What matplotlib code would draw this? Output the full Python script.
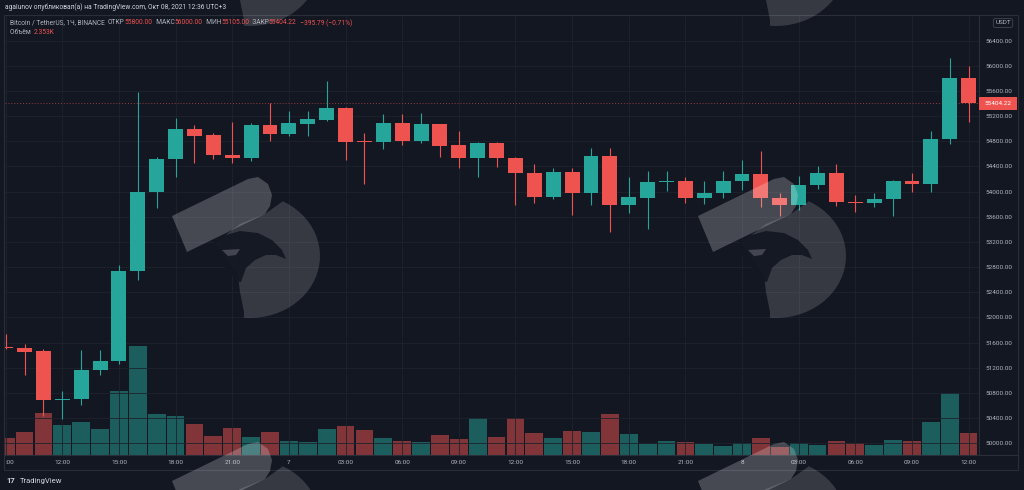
import numpy as np
import matplotlib
matplotlib.use("Agg")
import matplotlib.pyplot as plt
from matplotlib.patches import Polygon, Rectangle

plt.rcParams['font.family'] = ['Roboto', 'DejaVu Sans']

# Data: BTC/USDT 1h candles, hour counted from Oct 6 00:00
hours = list(range(9, 61))
opens = [51528, 51520, 51460, 50690, 50700, 51165, 51300, 52740, 54000, 54510,
         54990, 54900, 54585, 54530, 55060, 54920, 55080, 55140, 55325, 54795,
         54785, 55085, 54810, 55075, 54740, 54540, 54765, 54540, 54300, 53910,
         54315, 53985, 54570, 53785, 53905, 54160, 54170, 53895, 53970, 54170,
         54280, 53900, 53785, 54105, 54300, 53840, 53815, 53880, 54170, 54115,
         54835, 55800]
highs = [51740, 51580, 51500, 50835, 51480, 51490, 52830, 55575, 54555, 55175,
         55060, 54935, 55110, 55085, 55410, 55280, 55285, 55760, 55350, 54925,
         55235, 55230, 55245, 55080, 54965, 54790, 54780, 54545, 54435, 54370,
         54370, 54700, 54690, 54225, 54325, 54330, 54235, 54170, 54330, 54500,
         54640, 53980, 54245, 54405, 54435, 53945, 53970, 54185, 54290, 54965,
         56120, 56000]
lows = [51495, 51085, 50430, 50380, 50610, 51085, 51260, 52600, 53745, 54235,
        54450, 54515, 54460, 54485, 54800, 54880, 54885, 55120, 54500, 54115,
        54680, 54740, 54765, 54545, 54380, 54235, 54395, 53790, 53815, 53880,
        53620, 53790, 53360, 53655, 53400, 54005, 53825, 53800, 53895, 54025,
        53760, 53610, 53705, 54035, 53775, 53680, 53760, 53610, 53995, 54000,
        54755, 55105]
closes = [51508, 51455, 50690, 50710, 51165, 51310, 52740, 54000, 54510, 54990,
          54890, 54580, 54530, 55060, 54920, 55085, 55150, 55335, 54790, 54785,
          55085, 54810, 55075, 54730, 54540, 54765, 54540, 54300, 53910, 54315,
          53985, 54570, 53785, 53910, 54160, 54175, 53895, 53970, 54170, 54280,
          53900, 53785, 54105, 54300, 53840, 53815, 53880, 54170, 54115, 54835,
          55800, 55404.22]
volumes = [1810, 2463, 4611, 3270, 3630, 2834, 7009, 11914, 4469, 4284,
           3379, 2104, 2943, 1995, 2540, 1559, 1450, 2834, 3194, 2758,
           1886, 1559, 1373, 2213, 1777, 4066, 1995, 4066, 2431, 1886,
           2572, 2507, 4469, 2245, 1155, 1559, 1450, 1199, 1014, 1341,
           1809, 905, 1308, 1123, 1559, 1341, 1123, 1591, 1559, 3630,
           6714, 2353]

time_ticks = list(range(9, 61, 3))
time_labels = [":00", "12:00", "15:00", "18:00", "21:00", "7", "03:00", "06:00",
               "09:00", "12:00", "15:00", "18:00", "21:00", "8", "03:00", "06:00",
               "09:00", "12:00"]
price_ticks = list(range(50000, 56401, 400))

BG = '#131722'
GRID = '#1e222d'
UP = '#26a69a'
DOWN = '#ef5350'
TXT = '#b2b5be'
LINE = '#2a2e39'

W, H = 1024, 490
fig = plt.figure(figsize=(W / 100, H / 100), dpi=100, facecolor=BG)

def fx(px):
    return px / W

def fy(py):
    return 1 - py / H

pane = [fx(5), fy(455), fx(979) - fx(5), fy(15) - fy(455)]

# volume pane (behind)
vax = fig.add_axes(pane, zorder=1)
vax.set_facecolor(BG)
# price pane (front)
ax = fig.add_axes(pane, zorder=2)
ax.patch.set_alpha(0)

hrs = np.array(hours, dtype=float)
o = np.array(opens); c = np.array(closes)
hi = np.array(highs); lo = np.array(lows)
up = c >= o
cols = np.where(up, UP, DOWN)

vax.bar(hrs, volumes, width=0.94, color=cols, alpha=0.5, linewidth=0)
vax.set_ylim(0, 48000)
vax.set_xlim(8.965, 60.55)
vax.axis('off')

ax.vlines(hrs, lo, hi, colors=cols, linewidth=0.8, zorder=3)
body_bot = np.minimum(o, c)
body_h = np.maximum(np.abs(c - o), 16)
ax.bar(hrs, body_h, bottom=body_bot, width=0.79, color=cols, linewidth=0, zorder=4)

ax.axhline(closes[-1], color=DOWN, linestyle=(0, (1, 2)), linewidth=0.7, alpha=0.6, zorder=2)

ax.set_xlim(8.965, 60.55)
ax.set_ylim(49814, 56806)
ax.set_yticks(price_ticks)
ax.yaxis.set_major_formatter(lambda v, p: f"{v:.2f}")
ax.yaxis.tick_right()
ax.set_xticks(time_ticks)
ax.set_xticklabels(time_labels)
ax.tick_params(axis='y', length=0, pad=4.5, labelsize=4.6, labelcolor=TXT)
ax.tick_params(axis='x', length=0, pad=3.8, labelsize=4.6, labelcolor=TXT)
for lab in ax.get_yticklabels():
    lab.set_horizontalalignment('left')
ax.get_xticklabels()[0].set_horizontalalignment('left')
ax.grid(True, color=GRID, linewidth=0.6, zorder=0)
ax.set_axisbelow(True)
for s in ax.spines.values():
    s.set_visible(False)

# overlay in pixel coordinates
ov = fig.add_axes([0, 0, 1, 1], zorder=10)
ov.set_xlim(0, W)
ov.set_ylim(H, 0)
ov.axis('off')
ov.patch.set_alpha(0)

# frames
ov.add_patch(Rectangle((4, 15), 1014, 455, fill=False, edgecolor=LINE, linewidth=0.8))
ov.plot([979, 979], [15, 455], color=LINE, linewidth=0.8)
ov.plot([4, 1018], [455, 455], color=LINE, linewidth=0.8)

# watermark logos (bird head)
t = np.radians(np.linspace(-62, 95, 30))
arc = list(zip(250 + 70 * np.cos(t), 256 + 62 * np.sin(t)))
DSHAPE = arc + [(244, 312), (240, 292), (238, 275), (215, 243), (240, 224), (265, 214)]
BAR = [(172, 216), (248, 179), (258, 177), (268, 184), (272, 195), (270, 206),
       (265, 214), (187, 252)]
HEAD = [(212, 244), (222, 236), (240, 231), (258, 233), (272, 240), (282, 250),
        (286, 259), (276, 255), (266, 255), (255, 260), (246, 268), (241, 282),
        (236, 281), (211, 250)]
EYE = [(222, 250), (240, 249), (236, 255), (228, 256)]

def watermark(dx, dy):
    for pts, fc, a in [(DSHAPE, 'white', 0.15), (BAR, 'white', 0.22),
                       (HEAD, BG, 0.92), (EYE, 'white', 0.2)]:
        ov.add_patch(Polygon([(x + dx, y + dy) for x, y in pts], closed=True,
                             facecolor=fc, alpha=a, edgecolor='none', zorder=5))

for dx, dy in [(0, 0), (526, 0), (0, -292), (526, -292), (0, 265), (526, 265)]:
    watermark(dx, dy)

# last price label
fig.canvas.draw()
renderer = fig.canvas.get_renderer()
ly = H - ax.transData.transform((0, closes[-1]))[1]
ov.add_patch(Rectangle((979, ly - 6.5), 38, 13, facecolor=DOWN, edgecolor='none', zorder=6))
ov.text(998, ly, f"{closes[-1]:.2f}", color='white', ha='center', va='center',
        fontsize=4.6, zorder=7)

# USDT label
ov.text(1003, 23, "USDT", color=TXT, ha='center', va='center', fontsize=4.6,
        bbox=dict(boxstyle='round,pad=0.3', facecolor=BG, edgecolor='#434651', linewidth=0.6))

def chain(x, y, pieces, size=4.8, weight='normal'):
    for txt, col in pieces:
        t = ov.text(x, y, txt, color=col, fontsize=size, va='center', ha='left',
                    fontweight=weight, zorder=8)
        x += t.get_window_extent(renderer).width

chain(5, 7.5, [("agalunov опубликовал(а) на TradingView.com, Окт 08, 2021 12:36 UTC+3", '#d1d4dc')])
chain(10, 23, [("Bitcoin / TetherUS, 1Ч, BINANCE  ", TXT),
               ("ОТКР", TXT), ("55800.00", DOWN), ("  МАКС", TXT), ("56000.00", DOWN),
               ("  МИН", TXT), ("55105.00", DOWN), ("  ЗАКР", TXT), ("55404.22", DOWN),
               ("  −395.79 (−0.71%)", DOWN)])
chain(10, 32, [("Объём  ", TXT), ("2.353K", DOWN)])

# footer
chain(6, 480.5, [("17", '#d1d4dc')], size=5.5, weight='bold')
chain(20, 480.5, [("TradingView", '#d1d4dc')], size=5.5)

fig.savefig("out.png", dpi=100, facecolor=BG)
